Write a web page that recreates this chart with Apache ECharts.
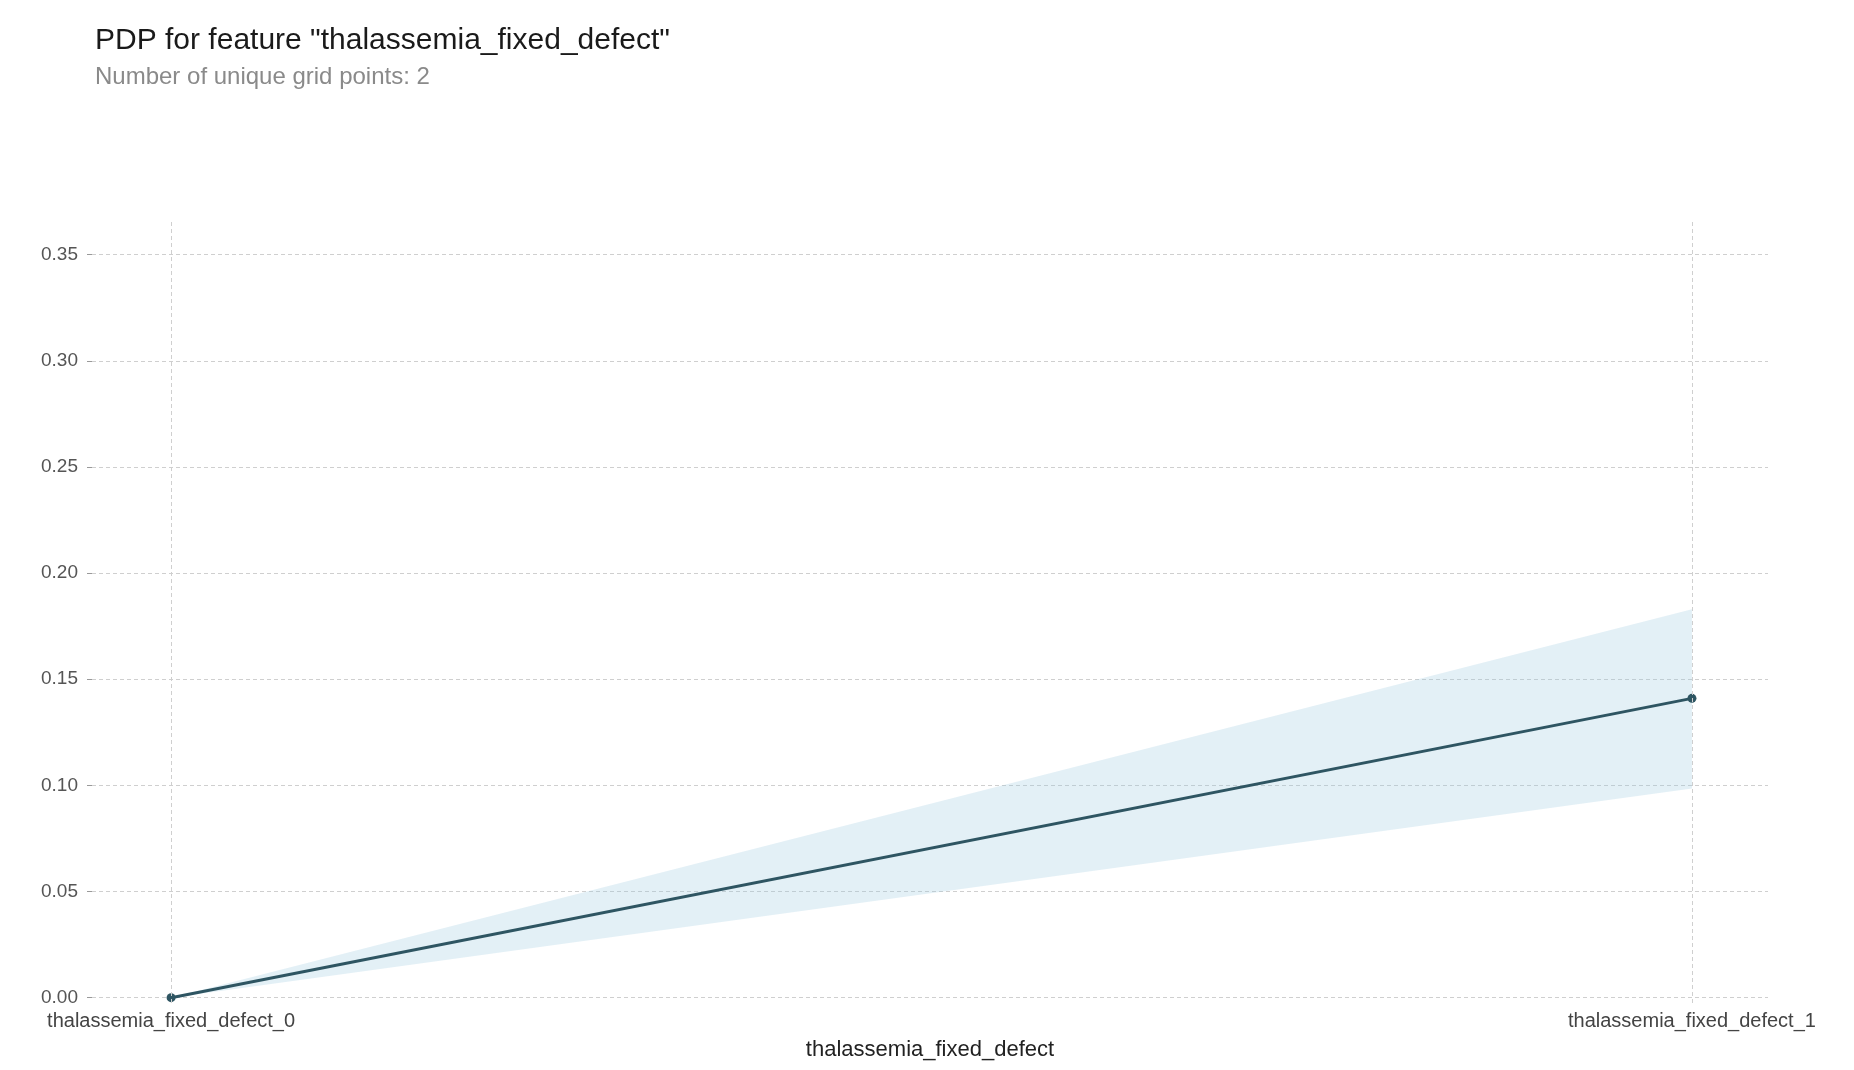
<!DOCTYPE html>
<html>
<head>
<meta charset="utf-8">
<title>PDP thalassemia_fixed_defect</title>
<script src="https://cdn.jsdelivr.net/npm/echarts@6/dist/echarts.min.js"></script>
<style>
  html, body {margin: 0; padding: 0; background: #fff;}
  #chart {width: 1854px; height: 1070px;}
</style>
</head>
<body>
<div id="chart"></div>
<script>
// data
var featureName = 'thalassemia_fixed_defect';
var categories = ['thalassemia_fixed_defect_0', 'thalassemia_fixed_defect_1'];
var pdpValues = [0, 0.141];
var upperValues = [0, 0.183];
var lowerValues = [0, 0.0985];
var yTicks = [0, 0.05, 0.10, 0.15, 0.20, 0.25, 0.30, 0.35];
var catIndex = categories.map(function (c, i) { return i; });

var gridColor = '#cfcfcf';
var lineColor = '#2e5562';

var chart = echarts.init(document.getElementById('chart'));
chart.setOption({
  backgroundColor: '#fff',
  animation: false,
  textStyle: {fontFamily: 'Liberation Sans, Arial, sans-serif'},
  title: [
    {
      text: 'PDP for feature "' + featureName + '"',
      left: 95,
      top: 26,
      padding: 0,
      textStyle: {fontSize: 30, fontWeight: 'normal', color: '#1a1a1a'}
    },
    {
      text: 'Number of unique grid points: ' + categories.length,
      left: 95,
      top: 65,
      padding: 0,
      textStyle: {fontSize: 24, fontWeight: 'normal', color: '#8a8a8a'}
    }
  ],
  grid: {left: 92, right: 86, top: 219, bottom: 67},
  xAxis: {
    type: 'value',
    min: -0.052,
    max: 1.05,
    name: featureName,
    nameLocation: 'middle',
    nameGap: 36,
    nameTextStyle: {fontSize: 22, color: '#222'},
    axisLine: {show: false, onZero: false},
    axisTick: {show: false},
    splitLine: {show: false},
    axisLabel: {
      customValues: catIndex,
      fontSize: 20,
      color: '#444',
      margin: 8,
      formatter: function (v) { return categories[Math.round(v)]; }
    }
  },
  yAxis: {
    type: 'value',
    min: -0.0025,
    max: 0.3668,
    splitNumber: 7,
    axisLine: {show: false, onZero: false},
    axisTick: {
      show: true,
      customValues: yTicks,
      length: 5,
      lineStyle: {color: '#999'}
    },
    axisLabel: {
      customValues: yTicks,
      fontSize: 19,
      color: '#555',
      margin: 14,
      formatter: function (v) { return v.toFixed(2); }
    },
    splitLine: {
      show: true,
      showMinLine: true,
      showMaxLine: true,
      lineStyle: {color: gridColor, type: [4, 3], width: 1}
    }
  },
  series: [
    {
      name: 'band',
      type: 'custom',
      silent: true,
      data: catIndex.map(function (i) { return [i, lowerValues[i], upperValues[i]]; }),
      renderItem: function (params, api) {
        var i = params.dataIndex;
        if (i === 0) return null;
        var pts = [
          api.coord([i - 1, lowerValues[i - 1]]),
          api.coord([i, lowerValues[i]]),
          api.coord([i, upperValues[i]]),
          api.coord([i - 1, upperValues[i - 1]])
        ];
        return {
          type: 'polygon',
          shape: {points: pts},
          style: {fill: 'rgba(150, 200, 220, 0.27)'}
        };
      },
      z: 1
    },
    {
      name: 'pdp',
      type: 'line',
      data: catIndex.map(function (i) { return [i, pdpValues[i]]; }),
      symbol: 'circle',
      symbolSize: 9,
      showSymbol: true,
      lineStyle: {color: lineColor, width: 3},
      itemStyle: {color: lineColor},
      z: 3,
      markLine: {
        silent: true,
        symbol: 'none',
        label: {show: false},
        lineStyle: {color: gridColor, type: [4, 3], width: 1},
        data: catIndex.map(function (i) { return {xAxis: i}; })
      }
    }
  ]
});
</script>
</body>
</html>
